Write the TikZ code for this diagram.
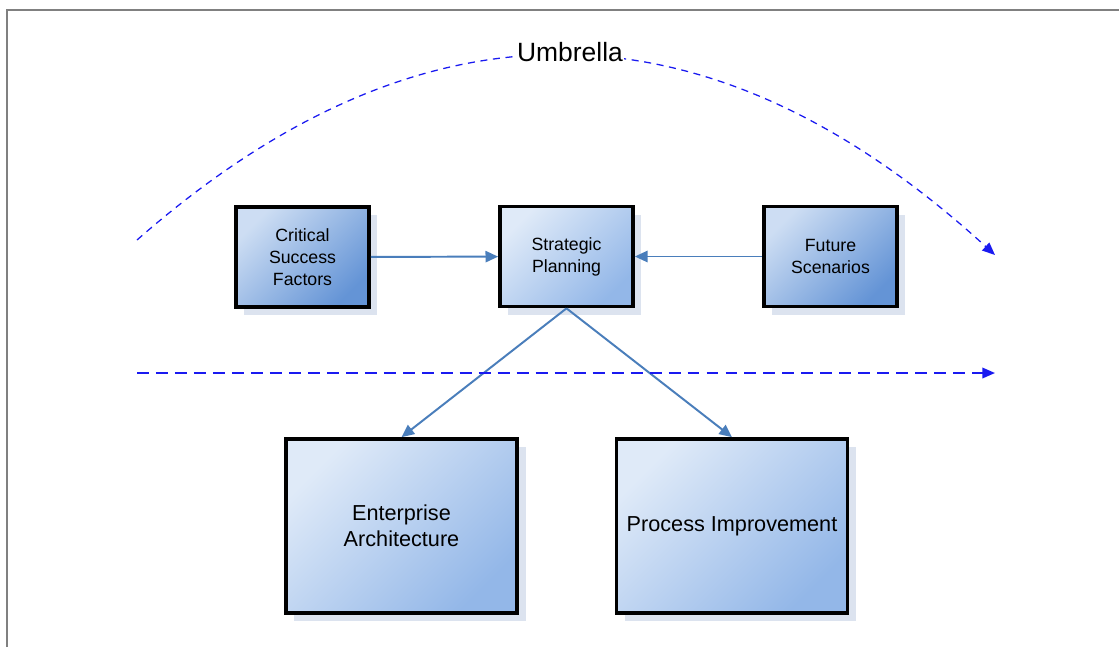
\documentclass[tikz,border=0pt]{standalone}
\usepackage{fontspec}
\setmainfont{Liberation Sans}
\usetikzlibrary{arrows.meta,shadows}

\definecolor{linkblue}{HTML}{4A7EBB}
\definecolor{dashblue}{HTML}{1A1AF0}
\definecolor{framegray}{HTML}{808080}
\definecolor{shadowgray}{HTML}{DCE3EF}
\definecolor{boxlight}{HTML}{DFEAF8}
\definecolor{boxmid}{HTML}{93B7E8}
\definecolor{boxdark}{HTML}{6494D6}

\begin{document}
\begin{tikzpicture}[x=0.025cm, y=-0.025cm,
	box/.style={draw=black, line width=2.6pt, rectangle, align=center,
		top color=boxlight, bottom color=boxmid, shading angle=45,
		drop shadow={shadow xshift=6pt, shadow yshift=-6pt, fill=shadowgray, opacity=1}},
	darkbox/.style={box, top color=boxlight!85!boxdark, bottom color=boxdark, shading angle=45},
	smallbox/.style={minimum width=3.325cm, minimum height=2.5cm,
		font=\fontsize{12.6}{15.6}\selectfont},
	bigbox/.style={minimum width=5.78cm, minimum height=4.35cm,
		font=\fontsize{15.4}{18.4}\selectfont},
	link/.style={draw=linkblue, line width=1.4pt, -{Triangle[length=9pt,width=8pt]}},
	umbrellaline/.style={draw=dashblue, line width=0.9pt, dash pattern=on 5pt off 4pt,
		-{Triangle[length=9pt,width=7.5pt]}}]
	
	\useasboundingbox (0,0) rectangle (1119,647);
	% frame
	\draw[framegray, line width=1.7pt] (7,647) -- (7,10) -- (1119,10);
	
	% boxes
	\node[darkbox, smallbox] (csf) at (302.5,257) {Critical\\Success\\Factors};
	\node[box, smallbox] (sp) at (566.5,256.5) {Strategic\\Planning};
	\node[darkbox, smallbox] (fs) at (830.5,256.5) {Future\\Scenarios};
	\node[box, bigbox] (ea) at (401.5,526) {Enterprise\\Architecture};
	\node[box, bigbox] (pi) at (732,526) {Process Improvement};
	
	% connectors
	\draw[link] (csf) -- (sp);
	\draw[link] (fs) -- (sp);
	\draw[link] (sp.south) -- (ea.north);
	\draw[link] (sp.south) -- (pi.north);
	
	% umbrella arc and dashed line
	\coordinate (arcstart) at (137,240);
	\coordinate (arcend) at (995,255);
	\coordinate (hstart) at (137,373);
	\coordinate (hend) at (995,373);
	\draw[umbrellaline] (arcstart) .. controls (423,-11) and (709,-6) .. (arcend);
	\draw[umbrellaline, line width=1.3pt, dash pattern=on 8.5pt off 5pt] (hstart) -- (hend);
	\node[fill=white, inner sep=1pt, font=\fontsize{18.8}{22}\selectfont] (umb) at (570,52) {Umbrella};
\end{tikzpicture}
\end{document}
